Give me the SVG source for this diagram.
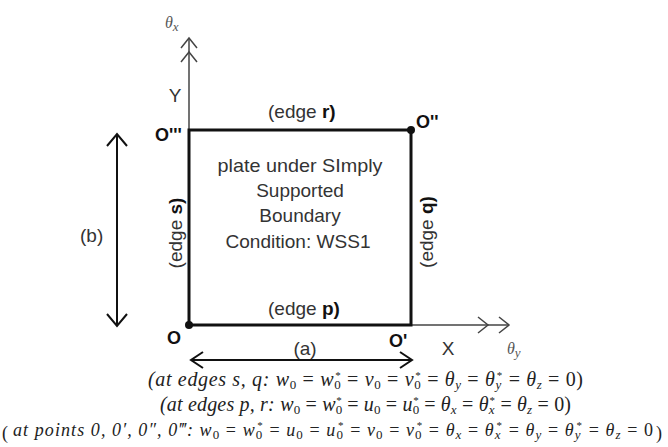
<svg xmlns="http://www.w3.org/2000/svg" width="668" height="447" viewBox="0 0 668 447">
<style>
.lbl{font-family:"Liberation Sans",Arial,sans-serif;font-size:19px;fill:#333}
.b{font-weight:bold;fill:#111}
.pt{font-family:"Liberation Sans",Arial,sans-serif;font-size:18px;font-weight:bold;fill:#111}
.ax{stroke:#444;stroke-width:1.5;fill:none}
.dim{stroke:#111;stroke-width:2;fill:none}
.eq{font-family:"Liberation Serif","Times New Roman",serif;font-style:italic;font-size:20px;fill:#222}
.eq3{font-family:"Liberation Serif","Times New Roman",serif;font-style:italic;font-size:18px;fill:#222}
.n{font-style:normal}
.sb{font-size:13px;font-style:normal}
.sbi{font-size:13px}
.sp{font-size:11px;font-style:normal}
.th{font-family:"Liberation Serif",serif;font-style:italic;font-size:16px;fill:#555}
</style>

<g id="connectors">
  <path class="ax" d="M189,325 L189,38"/>
  <path class="ax" d="M181,48 L189,38 L197,48 M181,62 L189,52 L197,62"/>
  <path class="ax" d="M411,325 L509,325"/>
  <path class="ax" d="M499,317 L509,325 L499,333 M478,317 L488,325 L478,333"/>
  <path class="dim" d="M117,134 L117,326 M107,146 L117,134 L127,146 M107,314 L117,326 L127,314"/>
  <path class="dim" d="M191,360 L412,360 M203,352 L191,360 L203,368 M400,352 L412,360 L400,368"/>
</g>

<g id="plate">
  <rect x="189" y="130" width="222" height="195" fill="none" stroke="#111" stroke-width="3"/>
  <text class="lbl" text-anchor="middle" x="300" y="172" textLength="165" lengthAdjust="spacingAndGlyphs">plate under SImply</text>
  <text class="lbl" text-anchor="middle" x="300" y="197">Supported</text>
  <text class="lbl" text-anchor="middle" x="300" y="222">Boundary</text>
  <text class="lbl" text-anchor="middle" x="298" y="248" textLength="145" lengthAdjust="spacingAndGlyphs">Condition: WSS1</text>
</g>

<g id="point-O">
  <circle cx="189" cy="325" r="4" fill="#111"/>
  <text class="pt" x="167" y="344">O</text>
</g>
<g id="point-O1">
  <text class="pt" x="389" y="347">O'</text>
</g>
<g id="point-O2">
  <circle cx="411" cy="130" r="4" fill="#111"/>
  <text class="pt" x="416" y="128">O''</text>
</g>
<g id="point-O3">
  <text class="pt" x="155" y="141">O'''</text>
</g>

<g id="edge-r"><text class="lbl" x="268" y="118">(edge  <tspan class="b">r)</tspan></text></g>
<g id="edge-p"><text class="lbl" x="268" y="315">(edge  <tspan class="b">p)</tspan></text></g>
<g id="edge-s"><text class="lbl" text-anchor="middle" transform="translate(182,233) rotate(-90)">(edge  <tspan class="b">s)</tspan></text></g>
<g id="edge-q"><text class="lbl" text-anchor="middle" transform="translate(433,232) rotate(-90)">(edge  <tspan class="b">q)</tspan></text></g>

<g id="axis-labels">
  <text class="lbl" text-anchor="middle" x="175" y="102" font-size="17">Y</text>
  <text class="lbl" text-anchor="middle" x="448" y="355" font-size="17">X</text>
  <text class="th" x="165" y="28">θ<tspan class="sbi" dy="3">x</tspan></text>
  <text class="th" x="507" y="354">θ<tspan class="sbi" dy="3">y</tspan></text>
</g>

<g id="dims">
  <text class="lbl" x="80" y="242">(b)</text>
  <text class="lbl" text-anchor="middle" x="305" y="355">(a)</text>
</g>

<g id="equations">
  <text class="eq" x="148" y="386" textLength="435">(at edges s, q: w<tspan class="sb" dy="3">0</tspan><tspan class="n" dy="-3"> = </tspan>w<tspan class="sb" dy="3">0</tspan><tspan class="sp" dx="-6" dy="-10">*</tspan><tspan class="n" dy="7"> = </tspan>v<tspan class="sb" dy="3">0</tspan><tspan class="n" dy="-3"> = </tspan>v<tspan class="sb" dy="3">0</tspan><tspan class="sp" dx="-6" dy="-10">*</tspan><tspan class="n" dy="7"> = </tspan>θ<tspan class="sbi" dy="3">y</tspan><tspan class="n" dy="-3"> = </tspan>θ<tspan class="sbi" dy="3">y</tspan><tspan class="sp" dx="-5" dy="-10">*</tspan><tspan class="n" dy="7"> = </tspan>θ<tspan class="sbi" dy="3">z</tspan><tspan class="n" dy="-3"> = 0)</tspan></text>
  <text class="eq" x="160" y="411" textLength="411">(at edges p, r: w<tspan class="sb" dy="3">0</tspan><tspan class="n" dy="-3"> = </tspan>w<tspan class="sb" dy="3">0</tspan><tspan class="sp" dx="-6" dy="-10">*</tspan><tspan class="n" dy="7"> = </tspan>u<tspan class="sb" dy="3">0</tspan><tspan class="n" dy="-3"> = </tspan>u<tspan class="sb" dy="3">0</tspan><tspan class="sp" dx="-6" dy="-10">*</tspan><tspan class="n" dy="7"> = </tspan>θ<tspan class="sbi" dy="3">x</tspan><tspan class="n" dy="-3"> = </tspan>θ<tspan class="sbi" dy="3">x</tspan><tspan class="sp" dx="-5" dy="-10">*</tspan><tspan class="n" dy="7"> = </tspan>θ<tspan class="sbi" dy="3">z</tspan><tspan class="n" dy="-3"> = 0)</tspan></text>
  <text class="eq3" x="2" y="439" font-size="28" style="font-style:normal">(</text>
  <text class="eq3" x="13" y="436" textLength="640">at points 0, 0′, 0″, 0‴: w<tspan class="sb" dy="3">0</tspan><tspan class="n" dy="-3"> = </tspan>w<tspan class="sb" dy="3">0</tspan><tspan class="sp" dx="-6" dy="-10">*</tspan><tspan class="n" dy="7"> = </tspan>u<tspan class="sb" dy="3">0</tspan><tspan class="n" dy="-3"> = </tspan>u<tspan class="sb" dy="3">0</tspan><tspan class="sp" dx="-6" dy="-10">*</tspan><tspan class="n" dy="7"> = </tspan>v<tspan class="sb" dy="3">0</tspan><tspan class="n" dy="-3"> = </tspan>v<tspan class="sb" dy="3">0</tspan><tspan class="sp" dx="-6" dy="-10">*</tspan><tspan class="n" dy="7"> = </tspan>θ<tspan class="sbi" dy="3">x</tspan><tspan class="n" dy="-3"> = </tspan>θ<tspan class="sbi" dy="3">x</tspan><tspan class="sp" dx="-5" dy="-10">*</tspan><tspan class="n" dy="7"> = </tspan>θ<tspan class="sbi" dy="3">y</tspan><tspan class="n" dy="-3"> = </tspan>θ<tspan class="sbi" dy="3">y</tspan><tspan class="sp" dx="-5" dy="-10">*</tspan><tspan class="n" dy="7"> = </tspan>θ<tspan class="sbi" dy="3">z</tspan><tspan class="n" dy="-3"> = 0</tspan></text>
  <text class="eq3" x="656" y="439" font-size="28" style="font-style:normal">)</text>
</g>
</svg>
